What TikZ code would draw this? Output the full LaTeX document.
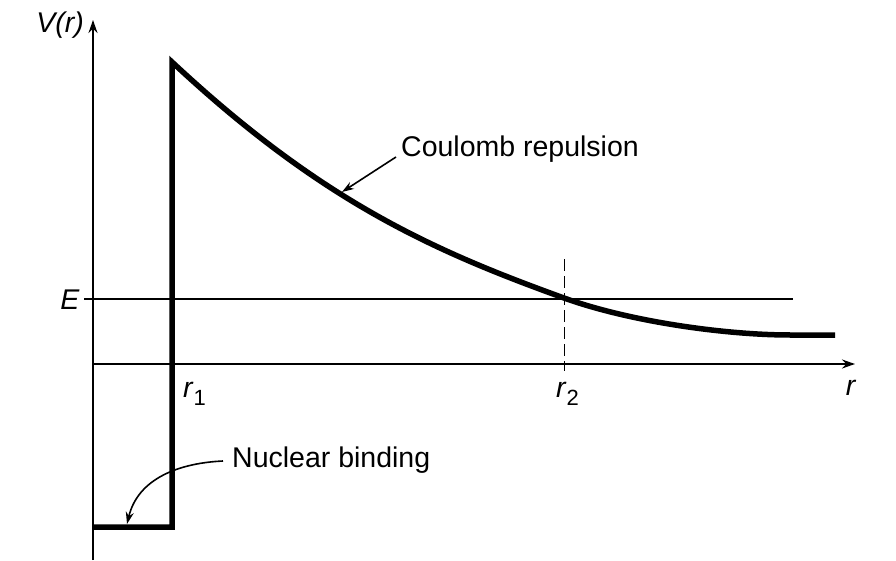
\documentclass[tikz,border=0pt]{standalone}
\usepackage{fontspec}
\setmainfont{Liberation Sans}
\usetikzlibrary{arrows.meta}
\newcommand\mysubscr[1]{\raisebox{-8pt}{\fontsize{22}{22}\selectfont #1}}
\begin{document}
\begin{tikzpicture}[x=1pt,y=-1pt,
  lbl/.style={inner sep=0pt, font=\fontsize{28.5}{30}\selectfont},
  heavy/.style={line width=5.5pt, line join=miter},
  axis/.style={line width=2pt, -{Stealth[length=13pt,width=9pt]}},
  pointer/.style={line width=1.6pt, -{Stealth[length=12pt,width=8pt]}}]
\useasboundingbox (0,0) rectangle (896,561);
% key points
\coordinate (o) at (93,364);
\coordinate (ytop) at (93,20);
\coordinate (ybot) at (93,560);
\coordinate (xend) at (855,364);
\coordinate (el) at (84,299);
\coordinate (er) at (793,299);
\coordinate (w0) at (93,527);
\coordinate (w1) at (172,527);
\coordinate (w2) at (172,62);
\coordinate (cross) at (564,298);
\coordinate (flat) at (790,335);
\coordinate (cend) at (835,335);
\coordinate (d1) at (564,259);
\coordinate (d2) at (564,371);
\coordinate (ctip) at (342,192);
\coordinate (ntip) at (127,524);
% axes and lines
\draw[axis] (ybot) -- (ytop);
\draw[axis] (o) -- (xend);
\draw[line width=1.5pt] (el) -- (er);
\draw[line width=1pt, dash pattern=on 12pt off 5pt] (d1) -- (d2);
% potential
\draw[heavy] (w0) -- (w1) -- (w2)
  .. controls (322,202) and (434,251) .. (cross)
  .. controls (634,323) and (730,335) .. (flat) -- (cend);
% labels
\node[lbl, anchor=base] (vlab) at (60,33) {\textit{V(r)}};
\node[lbl, anchor=base] (elab) at (70,309) {\textit{E}};
\node[lbl, anchor=base west] (r1lab) at (183,397) {\textit{r}\mysubscr{1}};
\node[lbl, anchor=base west] (r2lab) at (556,397) {\textit{r}\mysubscr{2}};
\node[lbl, anchor=base] (rlab) at (851,395) {\textit{r}};
\node[lbl, anchor=base west] (coul) at (401,157) {Coulomb repulsion};
\node[lbl, anchor=base west] (nuc) at (232,467) {Nuclear binding};
% pointers
\draw[pointer] ([xshift=-5pt]coul.base west) -- (ctip);
\draw[pointer] ([xshift=-9pt,yshift=6pt]nuc.base west) .. controls (180,463) and (138,478) .. (ntip);
\end{tikzpicture}
\end{document}
